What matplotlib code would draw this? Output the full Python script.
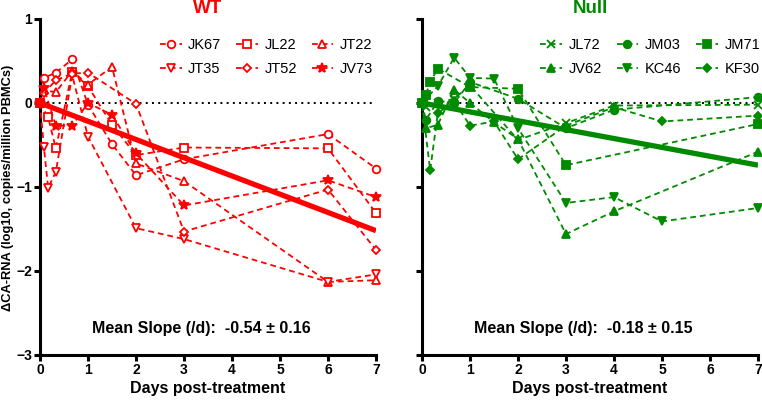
import matplotlib
matplotlib.use("Agg")
import matplotlib.pyplot as plt

plt.rcParams['font.family'] = ['Liberation Sans', 'DejaVu Sans']
plt.rcParams['font.weight'] = 'bold'

# ---------------- data ----------------
wt_names = ["JK67", "JL22", "JT22", "JT35", "JT52", "JV73"]
wt_markers = ["o", "s", "^", "v", "D", "*"]
wt_t = {
    "JK67": [0, 0.08, 0.33, 0.67, 1, 1.5, 2, 3, 6, 7],
    "JL22": [0, 0.17, 0.33, 0.67, 1, 1.5, 2, 3, 6, 7],
    "JT22": [0, 0.08, 0.33, 0.67, 1, 1.5, 2, 3, 6, 7],
    "JT35": [0, 0.08, 0.17, 0.33, 0.67, 1, 2, 3, 6, 7],
    "JT52": [0, 0.08, 0.33, 0.67, 1, 2, 3, 6, 7],
    "JV73": [0, 0.08, 0.33, 0.67, 1, 1.5, 2, 3, 6, 7],
}
wt_v = {
    "JK67": [0, 0.30, 0.36, 0.52, -0.02, -0.49, -0.86, -0.67, -0.37, -0.78],
    "JL22": [0, -0.17, -0.54, 0.37, 0.20, -0.26, -0.62, -0.53, -0.54, -1.31],
    "JT22": [0, 0.15, 0.13, 0.38, 0.22, 0.43, -0.72, -0.93, -2.13, -2.11],
    "JT35": [0, -0.52, -1.01, -0.82, 0.33, -0.40, -1.49, -1.62, -2.13, -2.04],
    "JT52": [0, 0.12, 0.27, 0.35, 0.36, -0.01, -1.53, -1.03, -1.75],
    "JV73": [0, 0.18, -0.27, -0.27, 0.00, -0.14, -0.60, -1.22, -0.92, -1.12],
}
wt_fit = [0.0, -1.52]          # fitted line values at day 0 and day 7
wt_slope_text = "Mean Slope (/d):  -0.54 \u00b1 0.16"

null_names = ["JL72", "JM03", "JM71", "JV62", "KC46", "KF30"]
null_markers = ["x", "o", "s", "^", "v", "D"]
null_t = {
    "JL72": [0, 0.08, 0.33, 0.67, 1, 2, 3, 4, 7],
    "JM03": [0, 0.08, 0.33, 0.67, 1, 2, 3, 4, 7],
    "JM71": [0, 0.08, 0.17, 0.33, 1, 2, 3, 7],
    "JV62": [0, 0.08, 0.33, 0.67, 1, 1.5, 2, 3, 4, 7],
    "KC46": [0, 0.08, 0.33, 0.67, 1, 1.5, 2, 3, 4, 5, 7],
    "KF30": [0, 0.17, 0.33, 0.67, 1, 1.5, 2, 3, 4, 5, 7],
}
null_v = {
    "JL72": [0, -0.05, 0.00, 0.05, 0.21, -0.44, -0.24, -0.03, -0.02],
    "JM03": [0, -0.20, 0.02, 0.00, 0.25, 0.05, -0.30, -0.08, 0.07],
    "JM71": [0, 0.10, 0.25, 0.41, 0.19, 0.17, -0.74, -0.25],
    "JV62": [0, -0.30, -0.26, 0.16, 0.00, -0.23, -0.43, -1.56, -1.29, -0.58],
    "KC46": [0, 0.05, 0.20, 0.54, 0.30, 0.29, -0.30, -1.19, -1.12, -1.41, -1.25],
    "KF30": [0, -0.80, -0.12, 0.02, -0.27, -0.22, -0.67, -0.27, -0.05, -0.22, -0.15],
}
null_fit = [0.0, -0.74]
null_slope_text = "Mean Slope (/d):  -0.18 \u00b1 0.15"

x_ticks = [0, 1, 2, 3, 4, 5, 6, 7]
y_ticks = [-3, -2, -1, 0, 1]
RED = "#ff0000"
GREEN = "#008a00"

# ---------------- figure ----------------
fig = plt.figure(figsize=(7.62, 4.03), dpi=100)
W, H = 762, 403
axL = fig.add_axes([40 / W, (H - 355) / H, 336 / W, 336 / H])
axR = fig.add_axes([422 / W, (H - 355) / H, 336 / W, 336 / H])


def panel(ax, names, markers, tt, vv, fit, color, open_markers, title, slope_text, ylabels, leg_x):
    handles = []
    for name, mk in zip(names, markers):
        ms = 5.5
        if mk == "*":
            ms = 7.5
        if mk == "D":
            ms = 4.5
        fc = "white" if (open_markers and mk != "*") else color
        line, = ax.plot(tt[name], vv[name], linestyle=(0, (3.2, 2.2)), color=color, lw=1.3,
                        marker=mk, markersize=ms, markerfacecolor=fc,
                        markeredgecolor=color, markeredgewidth=1.3, clip_on=False, zorder=3)
        handles.append(line)
    ax.plot([0, 7], fit, color=color, lw=3.8, solid_capstyle='butt', zorder=4)
    ax.plot([0, 7], [0, 0], color='black', lw=1.4, linestyle=(0, (1, 2.2)), zorder=2)
    ax.set_xlim(0, 7)
    ax.set_ylim(-3, 1)
    ax.set_xticks(x_ticks)
    ax.set_yticks(y_ticks)
    if not ylabels:
        ax.set_yticklabels([])
    for s in ['top', 'right']:
        ax.spines[s].set_visible(False)
    for s in ['left', 'bottom']:
        ax.spines[s].set_linewidth(2.2)
    ax.tick_params(axis='both', direction='out', length=4, width=2.2, labelsize=10, pad=1.5)
    for lab in ax.get_xticklabels() + ax.get_yticklabels():
        lab.set_fontweight('bold')
    ax.set_title(title, color=color, fontsize=13.5, fontweight='bold', pad=4)
    ax.set_xlabel("Days post-treatment", fontsize=11.5, fontweight='bold', labelpad=3)
    ax.text(3.37, -2.68, slope_text, ha='center', va='center', fontsize=11.5, fontweight='bold')
    order = [0, 3, 1, 4, 2, 5]
    leg = ax.legend([handles[i] for i in order], [names[i] for i in order], ncol=3,
                    loc='upper right', bbox_to_anchor=(leg_x, 0.961), frameon=False,
                    fontsize=10.5, handlelength=1.5, columnspacing=1.0, handletextpad=0.45,
                    labelspacing=0.7, borderaxespad=0.0)
    for t in leg.get_texts():
        t.set_fontweight('normal')
    ax.set_facecolor('white')


panel(axL, wt_names, wt_markers, wt_t, wt_v, wt_fit, RED, True, "WT", wt_slope_text, True, 1.009)
panel(axR, null_names, null_markers, null_t, null_v, null_fit, GREEN, False, "Null", null_slope_text, False, 1.024)
fig.text(8 / W, 1 - 188 / H, "\u0394CA-RNA (log10, copies/million PBMCs)", rotation=90,
         ha='center', va='center', fontsize=9.3, fontweight='bold')

fig.savefig("out.png", dpi=100)
